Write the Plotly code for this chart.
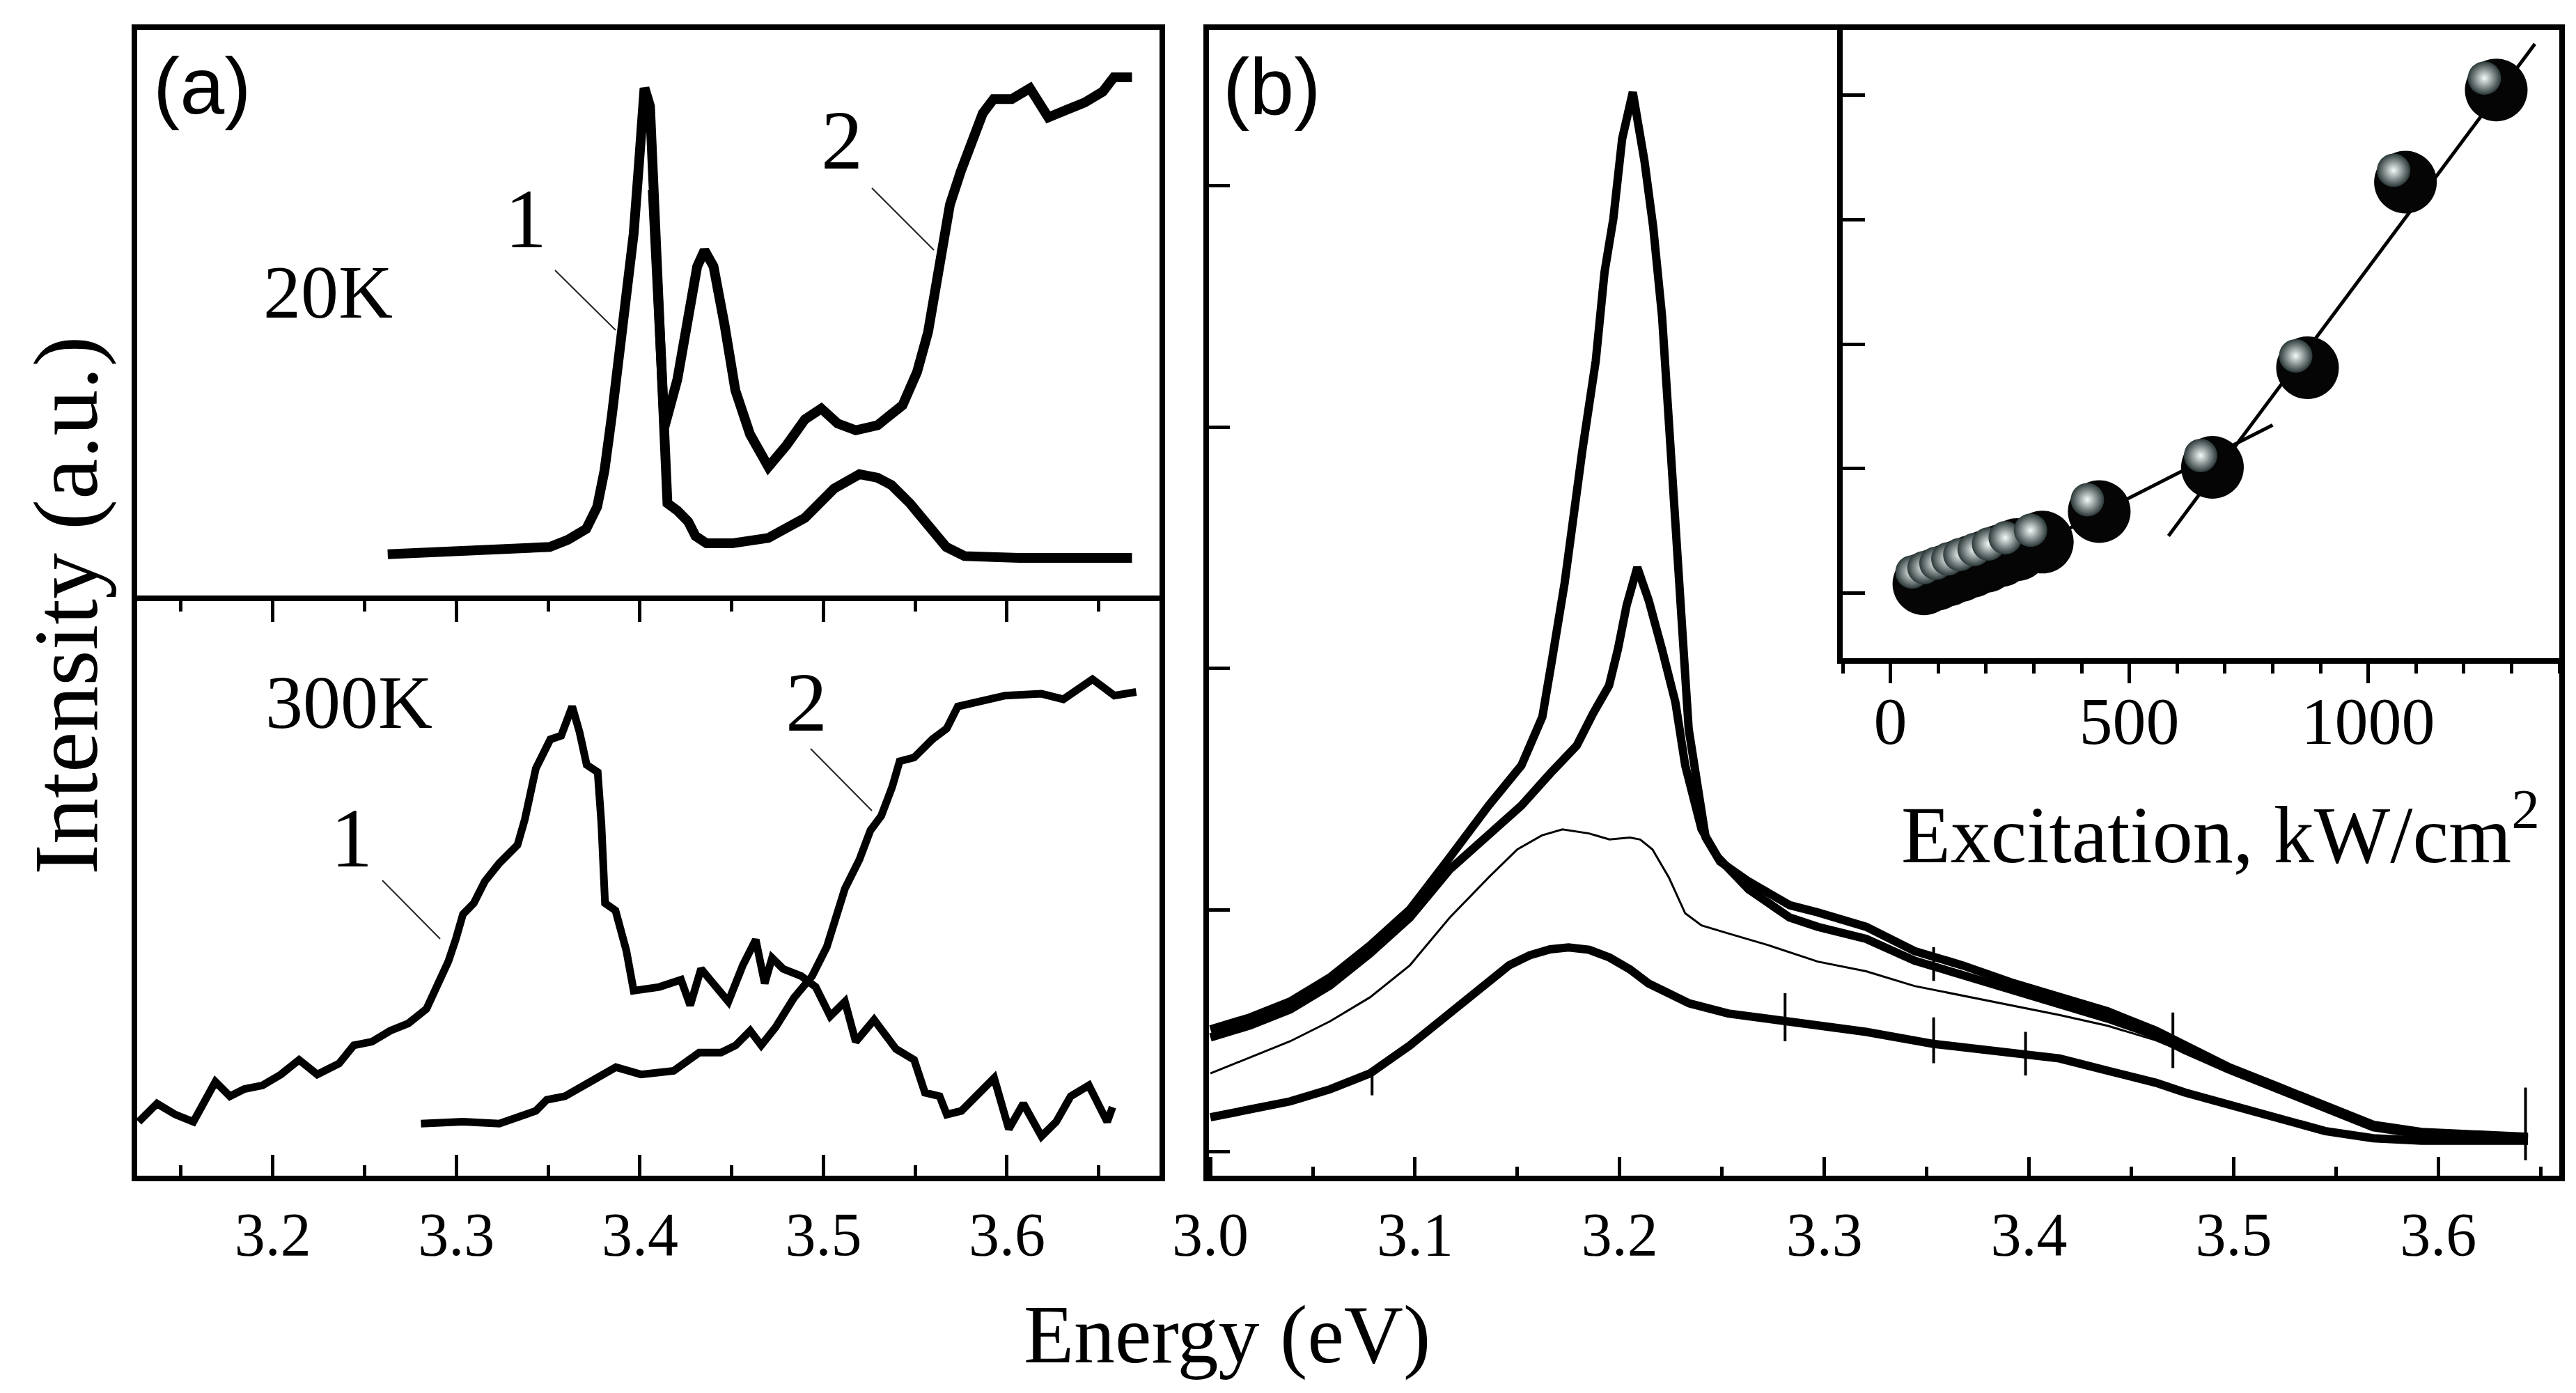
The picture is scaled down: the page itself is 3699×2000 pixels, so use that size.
import plotly.graph_objects as go

W, H = 3699, 2000

# ---- panel (a), 20K (upper) ----
a20_1_x = [3.2626, 3.3013, 3.3509, 3.3608, 3.3708, 3.3767, 3.3807, 3.3847, 3.3886, 3.3926,
           3.3966, 3.3996, 3.4025, 3.4055, 3.4085, 3.4110, 3.4135, 3.4150, 3.4204, 3.4263,
           3.4303, 3.4363, 3.4502, 3.4700, 3.4899, 3.5057, 3.5196, 3.5295, 3.5371, 3.5471,
           3.5570, 3.5669, 3.5768, 3.6066, 3.6681]
a20_1_y = [8.2, 8.83, 9.47, 10.74, 12.66, 16.49, 22.86, 32.43, 41.99, 51.56,
           64.32, 77.07, 89.83, 86.64, 65.0, 40.0, 22.0, 17.12, 15.84, 13.93,
           11.38, 10.11, 10.11, 11.06, 14.57, 19.67, 22.22, 21.59, 20.3, 17.12,
           13.29, 9.47, 7.88, 7.55, 7.55]

a20_2_x = [3.4070, 3.4134, 3.4204, 3.4263, 3.4312, 3.4352, 3.4401, 3.4461, 3.4520, 3.4600,
           3.4700, 3.4799, 3.4899, 3.4988, 3.5077, 3.5176, 3.5295, 3.5431, 3.5510, 3.5570,
           3.5629, 3.5689, 3.5748, 3.5808, 3.5868, 3.5927, 3.6026, 3.6125, 3.6225, 3.6324,
           3.6423, 3.6522, 3.6582, 3.6681]
a20_2_y = [72.0, 30.5, 38.8, 49.6, 58.6, 61.4, 58.6, 48.4, 36.9, 29.2,
           23.5, 27.3, 31.8, 33.7, 31.1, 29.9, 30.8, 34.3, 40.1, 47.1,
           57.9, 69.4, 75.2, 80.9, 85.4, 87.9, 87.9, 89.8, 84.7, 86.0,
           87.3, 89.2, 91.7, 91.7]

# ---- panel (a), 300K (lower) ----
a300_1_x = [3.1269, 3.1369, 3.1468, 3.1567, 3.1687, 3.1766, 3.1845, 3.1944, 3.2044, 3.2143,
            3.2242, 3.2361, 3.2441, 3.2540, 3.2639, 3.2738, 3.2837, 3.2897, 3.2956, 3.2996,
            3.3036, 3.3095, 3.3155, 3.3234, 3.3333, 3.3373, 3.3433, 3.3512, 3.3571, 3.3631,
            3.3671, 3.3710, 3.3770, 3.3790, 3.3810, 3.3867, 3.3926, 3.3966, 3.4105, 3.4224,
            3.4274, 3.4333, 3.4403, 3.4482, 3.4561, 3.4631, 3.4680, 3.4720, 3.4780, 3.4879,
            3.4958, 3.5037, 3.5117, 3.5176, 3.5276, 3.5395, 3.5494, 3.5553, 3.5633, 3.5672,
            3.5752, 3.5851, 3.5930, 3.6010, 3.6089, 3.6188, 3.6268, 3.6347, 3.6446, 3.6546,
            3.6575]
a300_1_y = [9.38, 12.55, 10.65, 9.38, 16.35, 13.82, 15.09, 15.72, 17.62, 20.16,
            17.62, 19.53, 22.69, 23.32, 25.22, 26.5, 29.03, 32.84, 37.27, 41.07,
            45.51, 47.42, 51.22, 54.39, 57.55, 62.0, 70.87, 75.94, 76.57, 81.65,
            77.21, 71.5, 70.23, 61.36, 47.42, 46.15, 39.18, 32.2, 32.84, 34.1,
            29.66, 36.0, 33.47, 30.3, 36.64, 41.07, 33.47, 37.9, 36.0, 34.74,
            32.84, 27.76, 30.3, 23.32, 27.13, 22.06, 20.16, 14.45, 13.82, 10.65,
            11.28, 14.45, 16.99, 8.11, 12.55, 6.85, 9.38, 13.82, 15.72, 9.38,
            11.92]

a300_2_x = [3.2807, 3.3036, 3.3234, 3.3433, 3.3492, 3.3591, 3.3730, 3.3869, 3.4006, 3.4184,
            3.4323, 3.4442, 3.4522, 3.4601, 3.4661, 3.4740, 3.4839, 3.4938, 3.5018, 3.5077,
            3.5117, 3.5196, 3.5256, 3.5315, 3.5375, 3.5415, 3.5494, 3.5593, 3.5672, 3.5732,
            3.5811, 3.5990, 3.6188, 3.6307, 3.6466, 3.6585, 3.6704]
a300_2_y = [9.07, 9.38, 9.07, 11.28, 13.19, 13.82, 16.35, 18.89, 17.62, 18.25,
            21.43, 21.43, 22.69, 25.22, 22.69, 25.87, 30.93, 34.74, 39.81, 45.51,
            49.95, 55.02, 60.1, 62.63, 67.7, 72.13, 72.78, 75.94, 77.84, 81.65,
            82.28, 83.55, 83.87, 82.91, 86.4, 83.55, 84.18]

# ---- panel (b) spectra ----
b1_x = [3.000, 3.0195, 3.039, 3.0585, 3.078, 3.0975, 3.117, 3.136, 3.152, 3.1622,
        3.1666, 3.1731, 3.1818, 3.1883, 3.1926, 3.1969, 3.2012, 3.2064, 3.2121, 3.2164,
        3.2207, 3.2251, 3.2294, 3.2337, 3.242, 3.249, 3.263, 3.283, 3.2968, 3.3204,
        3.3440, 3.3676, 3.3912, 3.4148, 3.4384, 3.4620, 3.4761, 3.4974, 3.5210, 3.5446,
        3.5564, 3.5682, 3.5918, 3.6154, 3.6438]
b1_y = [0.505, 0.555, 0.621, 0.721, 0.853, 1.002, 1.218, 1.433, 1.599, 1.80,
        2.02, 2.355, 2.907, 3.275, 3.643, 3.864, 4.195, 4.388, 4.103, 3.827,
        3.459, 2.907, 2.355, 1.75, 1.30, 1.201, 1.118, 1.02, 0.99, 0.93,
        0.83, 0.77, 0.70, 0.64, 0.58, 0.50, 0.44, 0.35, 0.27, 0.19,
        0.15, 0.11, 0.08, 0.07, 0.06]

b2_x = [3.000, 3.0195, 3.039, 3.0585, 3.078, 3.0975, 3.117, 3.136, 3.152, 3.166,
        3.179, 3.187, 3.1948, 3.1991, 3.2034, 3.2086, 3.2142, 3.2207, 3.2272, 3.232,
        3.240, 3.248, 3.263, 3.283, 3.2968, 3.3204, 3.3440, 3.3676, 3.3912, 3.4148,
        3.4384, 3.4620, 3.4761, 3.4974, 3.5210, 3.5446, 3.5564, 3.5682, 3.5918, 3.6154,
        3.6438]
b2_y = [0.472, 0.522, 0.588, 0.687, 0.820, 0.969, 1.168, 1.317, 1.433, 1.565,
        1.681, 1.814, 1.93, 2.079, 2.263, 2.419, 2.282, 2.079, 1.861, 1.599,
        1.334, 1.218, 1.085, 0.969, 0.93, 0.88, 0.79, 0.73, 0.67, 0.61,
        0.55, 0.48, 0.42, 0.34, 0.26, 0.18, 0.14, 0.10, 0.07, 0.06,
        0.05]

b3_x = [3.000, 3.0195, 3.039, 3.0585, 3.078, 3.0975, 3.117, 3.136, 3.150, 3.162,
        3.172, 3.185, 3.195, 3.205, 3.210, 3.216, 3.224, 3.232, 3.240, 3.253,
        3.273, 3.2968, 3.3204, 3.3440, 3.3676, 3.3912, 3.4148, 3.4384, 3.4620, 3.4761,
        3.4974, 3.5210, 3.5446, 3.5682, 3.5918, 3.6154, 3.6438]
b3_y = [0.323, 0.389, 0.456, 0.539, 0.638, 0.771, 0.969, 1.135, 1.251, 1.309,
        1.334, 1.317, 1.292, 1.300, 1.292, 1.251, 1.135, 0.986, 0.936, 0.903,
        0.853, 0.786, 0.746, 0.685, 0.645, 0.605, 0.565, 0.52, 0.46, 0.41,
        0.34, 0.26, 0.18, 0.10, 0.07, 0.06, 0.05]

b4_x = [3.000, 3.0195, 3.039, 3.0585, 3.078, 3.0975, 3.117, 3.136, 3.146, 3.156,
        3.166, 3.175, 3.185, 3.195, 3.205, 3.214, 3.224, 3.234, 3.253, 3.273,
        3.2968, 3.3204, 3.3534, 3.3912, 3.4148, 3.4384, 3.4620, 3.4761, 3.4974, 3.5210,
        3.5446, 3.5682, 3.5918, 3.6154, 3.6438]
b4_y = [0.141, 0.174, 0.207, 0.257, 0.323, 0.439, 0.571, 0.704, 0.771, 0.812,
        0.837, 0.845, 0.835, 0.803, 0.754, 0.696, 0.655, 0.613, 0.571, 0.547,
        0.515, 0.495, 0.445, 0.405, 0.385, 0.334, 0.284, 0.244, 0.194, 0.144,
        0.084, 0.054, 0.044, 0.044, 0.044]

# noise spikes on the (b) spectra: position, top, bottom
spike_x = [3.079, 3.2808, 3.3534, 3.3983, 3.3534, 3.4703, 3.6426]
spike_top = [0.34, 0.655, 0.555, 0.495, 0.846, 0.575, 0.264]
spike_bot = [0.232, 0.456, 0.365, 0.314, 0.706, 0.345, -0.037]

# ---- inset: intensity vs excitation ----
exc_x = [70, 95, 120, 145, 170, 200, 230, 265, 318, 437, 674, 873, 1078, 1268]
exc_y = [0.075, 0.11, 0.145, 0.18, 0.215, 0.255, 0.30, 0.35, 0.41, 0.655, 1.01, 1.81, 3.30, 4.04]
fit_lo_x = [318, 800]
fit_lo_y = [0.41, 1.35]
fit_hi_x = [582, 1349]
fit_hi_y = [0.46, 4.41]


def px(x):
    return x / W


def py(y):
    return 1 - y / H


SERIF = "Liberation Serif"
SANS = "Liberation Sans"
INK = "black"

A_X = [px(189), px(1657)]
B_X = [px(1728), px(3667)]
IN_X = [px(2638), px(3667)]
A_UP = [py(855), py(35)]
A_LO = [py(1680), py(855)]
B_Y = [py(1680), py(35)]
IN_Y = [py(937), py(35)]
SHIFT_X, SHIFT_Y = 17 / W, 17 / H

fig = go.Figure()

thick = dict(color=INK, width=14)
fig.add_trace(go.Scatter(x=a20_1_x, y=a20_1_y, mode="lines", line=thick, xaxis="x", yaxis="y"))
fig.add_trace(go.Scatter(x=a20_2_x, y=a20_2_y, mode="lines", line=thick, xaxis="x", yaxis="y"))
fig.add_trace(go.Scatter(x=a300_1_x, y=a300_1_y, mode="lines", line=dict(color=INK, width=11),
                         xaxis="x2", yaxis="y2"))
fig.add_trace(go.Scatter(x=a300_2_x, y=a300_2_y, mode="lines", line=dict(color=INK, width=11),
                         xaxis="x2", yaxis="y2"))

for bx, by, w in [(b4_x, b4_y, 12), (b3_x, b3_y, 3), (b2_x, b2_y, 12), (b1_x, b1_y, 12)]:
    fig.add_trace(go.Scatter(x=bx, y=by, mode="lines", line=dict(color=INK, width=w),
                             xaxis="x3", yaxis="y3"))

# spikes as thin vertical segments
sx, sy = [], []
for x, top, bot in zip(spike_x, spike_top, spike_bot):
    sx += [x, x, None]
    sy += [top, bot, None]
fig.add_trace(go.Scatter(x=sx, y=sy, mode="lines", line=dict(color=INK, width=4),
                         xaxis="x3", yaxis="y3"))

fig.add_trace(go.Scatter(x=fit_lo_x, y=fit_lo_y, mode="lines", line=dict(color=INK, width=5),
                         xaxis="x4", yaxis="y4"))
fig.add_trace(go.Scatter(x=fit_hi_x, y=fit_hi_y, mode="lines", line=dict(color=INK, width=5),
                         xaxis="x4", yaxis="y4"))
fig.add_trace(go.Scatter(x=exc_x, y=exc_y, mode="markers",
                         marker=dict(size=90, color="#050505", line=dict(width=0)),
                         xaxis="x4", yaxis="y4"))
# highlight spots on the balls, drawn on a slightly shifted copy of the inset axes
fig.add_trace(go.Scatter(x=exc_x, y=exc_y, mode="markers",
                         marker=dict(size=48, color="#2b3838", line=dict(width=0),
                                     gradient=dict(type="radial", color="#f5fafa")),
                         xaxis="x5", yaxis="y5"))

frame = dict(showline=True, linecolor=INK, linewidth=8, mirror=True, showgrid=False,
             zeroline=False)
tickfont = dict(family=SERIF, size=88, color=INK)

fig.update_layout(
    width=W, height=H,
    margin=dict(l=0, r=0, t=0, b=0, autoexpand=False),
    paper_bgcolor="white", plot_bgcolor="rgba(0,0,0,0)",
    showlegend=False,
    xaxis=dict(domain=A_X, range=[3.1261, 3.6831], anchor="y", ticks="", side="top",
               showticklabels=False, showline=True, linecolor=INK, linewidth=8,
               mirror=False, showgrid=False, zeroline=False),
    yaxis=dict(domain=A_UP, range=[0, 100], anchor="x", ticks="", showticklabels=False, **frame),
    xaxis2=dict(domain=A_X, range=[3.1261, 3.6831], anchor="y2", ticks="inside", ticklen=30,
                tickwidth=5, tickcolor=INK, tick0=3.2, dtick=0.1, tickformat=".1f",
                tickfont=tickfont,
                minor=dict(ticks="inside", ticklen=15, tickwidth=5, tickcolor=INK, dtick=0.05,
                           showgrid=False),
                **{**frame, "mirror": "ticks"}),
    yaxis2=dict(domain=A_LO, range=[0, 100], anchor="x2", ticks="", showticklabels=False,
                **frame),
    xaxis3=dict(domain=B_X, range=[2.9993, 3.6591], anchor="y3", ticks="inside", ticklen=27,
                tickwidth=5, tickcolor=INK, tick0=3.0, dtick=0.1, tickformat=".1f",
                tickfont=tickfont,
                minor=dict(ticks="inside", ticklen=13, tickwidth=5, tickcolor=INK, dtick=0.05,
                           showgrid=False),
                **frame),
    yaxis3=dict(domain=B_Y, range=[-0.101, 4.646], anchor="x3", ticks="inside", ticklen=30,
                tickwidth=5, tickcolor=INK, tick0=0, dtick=1, showticklabels=False, **frame),
    xaxis4=dict(domain=IN_X, range=[-100, 1400], anchor="y4", ticks="outside", ticklen=28,
                tickwidth=5, tickcolor=INK, tick0=0, dtick=500, ticklabelstandoff=-28,
                tickfont=dict(family=SERIF, size=96, color=INK),
                minor=dict(ticks="outside", ticklen=14, tickwidth=5, tickcolor=INK, dtick=100,
                           showgrid=False),
                **frame),
    yaxis4=dict(domain=IN_Y, range=[-0.522, 4.522], anchor="x4", ticks="inside", ticklen=32,
                tickwidth=5, tickcolor=INK, tick0=0, dtick=1, showticklabels=False, **frame),
    xaxis5=dict(domain=[IN_X[0] - SHIFT_X, IN_X[1] - SHIFT_X], range=[-100, 1400],
                anchor="y5", visible=False),
    yaxis5=dict(domain=[IN_Y[0] + SHIFT_Y, IN_Y[1] + SHIFT_Y], range=[-0.522, 4.522],
                anchor="x5", visible=False),
)


def label(text, x, y, size, family=SERIF, angle=0):
    fig.add_annotation(text=text, x=px(x), y=py(y), xref="paper", yref="paper",
                       showarrow=False, xanchor="center", yanchor="middle", textangle=angle,
                       font=dict(family=family, size=size, color=INK))


label("(a)", 282, 115, 115, SANS)
label("(b)", 1818, 116, 115, SANS)
label("20K", 463, 411, 108)
label("300K", 493, 1001, 108)
label("1", 747, 307, 120)
label("2", 1201, 193, 120)
label("1", 497, 1195, 120)
label("2", 1150, 1000, 120)
label("Energy (eV)", 1754, 1908, 118)
label("Intensity (a.u.)", 86, 862, 132, angle=-90)
label("Excitation, kW/cm<sup>2</sup>", 3180, 1182, 116)

# thin pointer lines from the curve numbers
for x0, y0, x1, y1 in [(789, 380, 876, 466), (1244, 262, 1333, 351),
                       (541, 1256, 624, 1340), (1156, 1067, 1244, 1156)]:
    fig.add_shape(type="line", xref="paper", yref="paper", x0=px(x0), y0=py(y0),
                  x1=px(x1), y1=py(y1), line=dict(color="#222222", width=2))

fig.write_html("out.html")
